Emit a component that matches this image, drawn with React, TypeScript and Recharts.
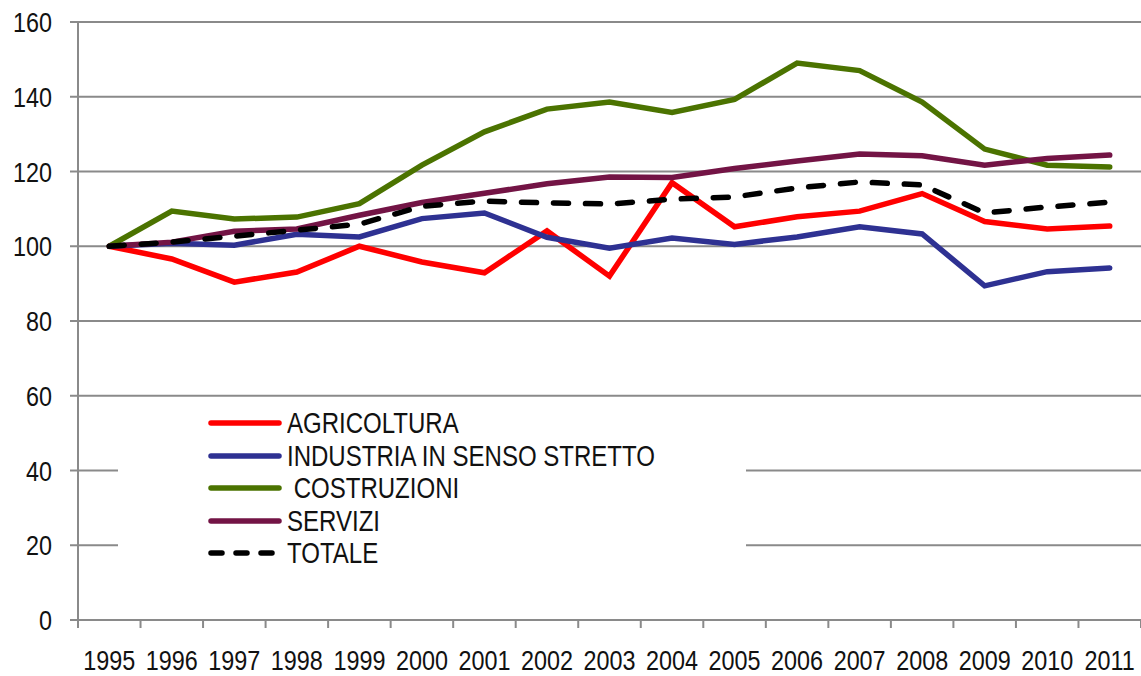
import React from 'react';
import { LineChart, Line, XAxis, YAxis, CartesianGrid, Legend } from 'recharts';

const years = ['1995', '1996', '1997', '1998', '1999', '2000', '2001', '2002', '2003', '2004', '2005', '2006', '2007', '2008', '2009', '2010', '2011'];
const agricoltura = [100, 96.6, 90.4, 93.1, 100, 95.8, 92.9, 104.1, 92, 117, 105.2, 107.9, 109.4, 114.1, 106.6, 104.6, 105.4];
const industria = [100, 100.8, 100.3, 103.2, 102.5, 107.4, 108.9, 102.4, 99.5, 102.2, 100.5, 102.5, 105.2, 103.3, 89.4, 93.2, 94.2];
const costruzioni = [100, 109.4, 107.3, 107.8, 111.4, 121.7, 130.6, 136.7, 138.6, 135.8, 139.3, 149, 147, 138.6, 126, 121.7, 121.2];
const servizi = [100, 101.1, 104, 104.6, 108.3, 111.7, 114.2, 116.7, 118.5, 118.4, 120.8, 122.8, 124.7, 124.2, 121.7, 123.5, 124.4];
const totale = [100, 101.1, 102.7, 104.3, 105.9, 110.7, 112.1, 111.6, 111.3, 112.6, 113.2, 115.6, 117.2, 116.4, 108.9, 110.5, 111.8];
const yTicks = [0, 20, 40, 60, 80, 100, 120, 140, 160];

const series = [
  { key: 'agricoltura', name: 'AGRICOLTURA', color: '#ff0000', dash: undefined },
  { key: 'industria', name: 'INDUSTRIA IN SENSO STRETTO', color: '#2e3192', dash: undefined },
  { key: 'costruzioni', name: ' COSTRUZIONI', color: '#4b7300', dash: undefined },
  { key: 'servizi', name: 'SERVIZI', color: '#731445', dash: undefined },
  { key: 'totale', name: 'TOTALE', color: '#000000', dash: '15 17' },
];

const data = years.map((year, i) => ({
  idx: i,
  year,
  agricoltura: agricoltura[i],
  industria: industria[i],
  costruzioni: costruzioni[i],
  servizi: servizi[i],
  totale: totale[i],
}));

// label ticks on the years, plain tick marks on the category edges
const xTicks: number[] = [];
for (let i = -0.5; i <= years.length - 0.5; i += 0.5) xTicks.push(i);

// no narrow font installed, so squeeze Liberation Sans horizontally
const FONT = "'Liberation Sans', Arial, sans-serif";
const SQUEEZE = 0.82;
const FS = 28.5;
const GRID = '#8a8a8a';
const INK = '#111';

function XTick(props: any) {
  const { x, y, payload } = props;
  const v = payload.value;
  if (Number.isInteger(v)) {
    return (
      <text transform={`translate(${x} ${y + 22}) scale(0.835 1)`} dy="0.71em" textAnchor="middle" fontSize={28} fontFamily={FONT} fill={INK}>
        {years[v]}
      </text>
    );
  }
  return <line x1={x} x2={x} y1={y - 8} y2={y} stroke={GRID} strokeWidth={2} />;
}

function YTick(props: any) {
  const { x, y, payload } = props;
  return (
    <text transform={`translate(${x} ${y}) scale(${SQUEEZE} 1)`} dy="0.355em" textAnchor="end" fontSize={FS} fontFamily={FONT} fill={INK}>
      {payload.value}
    </text>
  );
}

function LegendBox() {
  return (
    <div style={{ background: '#fff', width: '100%', height: '100%', paddingTop: 7, paddingLeft: 90, boxSizing: 'border-box' }}>
      {series.map((s) => (
        <div key={s.key} style={{ display: 'flex', alignItems: 'center', height: 32.5 }}>
          <svg width={74} height={10} style={{ marginRight: 5, flex: 'none' }}>
            <line x1={3} x2={s.dash ? 68 : 71} y1={5} y2={5} stroke={s.color} strokeWidth={5.5} strokeLinecap="round" strokeDasharray={s.dash ? '11 14' : undefined} />
          </svg>
          <span
            style={{
              fontFamily: FONT,
              fontSize: 29.3,
              color: INK,
              whiteSpace: 'pre',
              lineHeight: '32px',
              display: 'inline-block',
              transform: `scaleX(${SQUEEZE})`,
              transformOrigin: 'left center',
            }}
          >
            {s.name}
          </span>
        </div>
      ))}
    </div>
  );
}

export default function App() {
  return (
    <div style={{ position: 'absolute', left: 0, top: 0, width: 1141, height: 676, background: '#fff' }}>
      <LineChart width={1141} height={676} data={data} margin={{ top: 22, right: 0, bottom: 0, left: 0 }}>
        <CartesianGrid vertical={false} stroke={GRID} strokeWidth={2} />
        <XAxis
          dataKey="idx"
          type="number"
          domain={[-0.5, years.length - 0.5]}
          ticks={xTicks}
          interval={0}
          tick={<XTick />}
          tickLine={false}
          tickSize={8}
          tickMargin={0}
          height={56}
          axisLine={{ stroke: GRID, strokeWidth: 2 }}
        />
        <YAxis
          domain={[0, 160]}
          ticks={yTicks}
          interval={0}
          width={78}
          tickSize={8}
          tickMargin={18}
          tickLine={{ stroke: GRID, strokeWidth: 2 }}
          axisLine={{ stroke: GRID, strokeWidth: 2 }}
          tick={<YTick />}
        />
        <Legend
          layout="vertical"
          align="center"
          verticalAlign="middle"
          content={<LegendBox />}
          wrapperStyle={{ left: 118, top: 400, width: 628, height: 170 }}
        />
        {series.map((s) => (
          <Line
            key={s.key}
            dataKey={s.key}
            name={s.name}
            type="linear"
            stroke={s.color}
            strokeWidth={5.5}
            strokeDasharray={s.dash}
            strokeLinecap="round"
            dot={false}
            activeDot={false}
            isAnimationActive={false}
          />
        ))}
      </LineChart>
    </div>
  );
}
